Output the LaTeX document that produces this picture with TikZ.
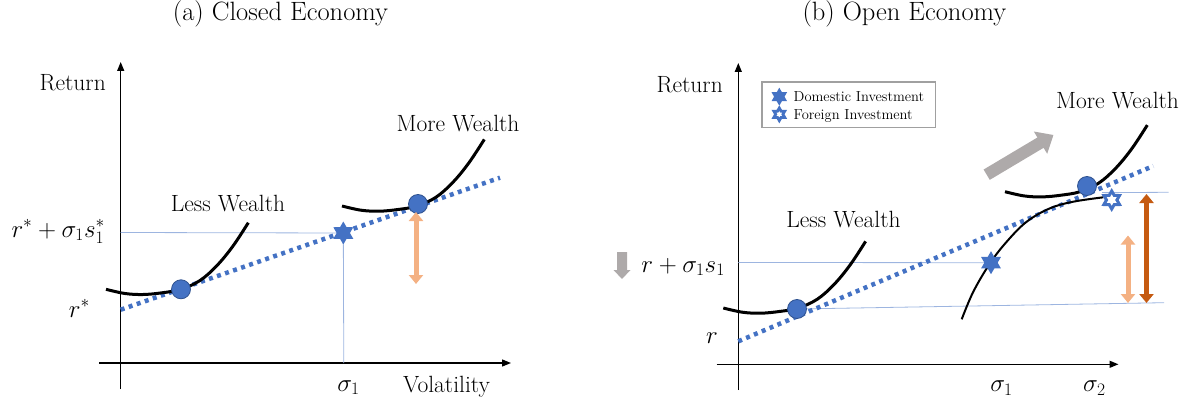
\RequirePackage{fix-cm}
\documentclass[tikz,border=0pt]{standalone}
\usetikzlibrary{arrows.meta,shapes.geometric}
\definecolor{accblue}{HTML}{4472C4}
\definecolor{edgeblue}{HTML}{2F528F}
\definecolor{thinblue}{HTML}{9DB5E0}
\definecolor{lightor}{HTML}{F4B183}
\definecolor{darkor}{HTML}{C55A11}
\definecolor{arrowgray}{HTML}{AEAAAA}
\definecolor{legendgray}{HTML}{A0A0A0}
\tikzset{
  axisline/.style={line width=1.3pt, -{Triangle[length=9pt,width=7pt]}},
  icurve/.style={line width=3pt},
  frontier/.style={line width=2pt},
  dotline/.style={accblue, line width=4.5pt, dash pattern=on 4pt off 4.5pt},
  guide/.style={thinblue, line width=0.8pt},
  wdot/.style={circle, fill=accblue, draw=edgeblue, line width=0.8pt, minimum size=19pt, inner sep=0pt},
  hexstar/.style={star, star points=6, star point ratio=1.73, fill=accblue, minimum size=23pt, inner sep=0pt},
  openstar/.style={star, star points=6, star point ratio=1.73, fill=white, draw=accblue, line width=3pt, minimum size=18pt, inner sep=0pt},
  lbl/.style={font=\fontsize{23.5}{28}\selectfont, inner sep=0pt, anchor=base},
  mlbl/.style={font=\fontsize{25}{30}\selectfont, inner sep=0pt, anchor=base},
  captxt/.style={font=\fontsize{26.5}{31}\selectfont, inner sep=0pt, anchor=base},
  legtxt/.style={font=\fontsize{14.5}{17}\selectfont, inner sep=0pt, anchor=base west},
  dblarrow/.style={line width=5pt, {Triangle[length=9pt,width=14pt]}-{Triangle[length=9pt,width=14pt]}},
  icpic/.pic={\draw[icurve] plot[smooth,tension=0.6] coordinates {(-75,0) (-56,4.2) (-38,5.2) (-19,3.5) (0,0) (19,-8.8) (36,-23.8) (52,-43.3) (67.3,-66.6)};}
}
\begin{document}
\begin{tikzpicture}[x=1pt,y=-1pt]
\useasboundingbox (0,0) rectangle (1192,404);
% captions
\node[captxt] (capa) at (280.5,21) {(a) Closed Economy};
\node[captxt] (capb) at (904.4,21) {(b) Open Economy};

% ================= panel (a) =================
\coordinate (ya0) at (120.7,389);
\coordinate (ya1) at (120.7,62);
\coordinate (xa0) at (99,363);
\coordinate (xa1) at (511,363);
\draw[axisline] (ya0) -- (ya1);
\draw[axisline] (xa0) -- (xa1);
\coordinate (psa) at (343.3,233);
\coordinate (ga0) at (120.7,232.5);
\coordinate (ga1) at (343.8,363);
\draw[guide] (ga0) -- (psa);
\draw[guide] (psa) -- (ga1);
\coordinate (da0) at (120.7,309.7);
\coordinate (da1) at (500,177.7);
\draw[dotline] (da0) -- (da1);
\pic at (181,289.3) {icpic};
\pic at (417,206) {icpic};
\node[wdot] (ca1) at (181,289.3) {};
\node[wdot] (ca2) at (418,204) {};
\node[hexstar] (sa) at (psa) {};
\coordinate (oa0) at (416,212);
\coordinate (oa1) at (416,284);
\draw[dblarrow, lightor] (oa0) -- (oa1);

\node[lbl, anchor=base east] (reta) at (106,91) {Return};
\node[mlbl, anchor=base east] (lra1) at (105,237) {$r^{*}+\sigma_1 s_1^{*}$};
\node[mlbl, anchor=base east] (lra0) at (90,317) {$r^{*}$};
\node[mlbl] (siga) at (348.5,391) {$\sigma_1$};
\node[lbl] (vola) at (446.5,392.5) {Volatility};
\node[lbl] (lwa) at (228,211.7) {Less Wealth};
\node[lbl] (mwa) at (458,131) {More Wealth};

% ================= panel (b) =================
\coordinate (yb0) at (738.3,390);
\coordinate (yb1) at (738.3,63);
\coordinate (xb0) at (716.7,364.3);
\coordinate (xb1) at (1118.5,364.3);
\draw[axisline] (yb0) -- (yb1);
\draw[axisline] (xb0) -- (xb1);
\coordinate (psd) at (991,262.7);
\coordinate (psf) at (1111.7,200);
\coordinate (cb1p) at (797,309);
\coordinate (gb0) at (738.3,262.5);
\coordinate (gb1) at (1164,302.7);
\coordinate (gb2) at (1102,192.6);
\coordinate (gb3) at (1168.5,192.3);
\draw[guide] (gb0) -- (psd);
\draw[guide] (cb1p) -- (gb1);
\draw[guide] (gb2) -- (gb3);
\coordinate (db0) at (738.3,341.3);
\coordinate (db1) at (1153.3,166);
\draw[dotline] (db0) -- (db1);
\draw[frontier] plot[smooth,tension=0.6] coordinates {(961.7,319.3) (973.3,291.7) (990,263.3) (1006.7,241.7) (1026.7,221.7) (1050,208.3) (1073.3,201.7) (1103.3,197.3)};
\pic at (798.3,308) {icpic};
\pic at (1080,191.7) {icpic};
\node[wdot] (cb1) at (cb1p) {};
\node[wdot] (cb2) at (1087,186) {};
\node[hexstar] (sd) at (psd) {};
\node[openstar] (sf) at (psf) {};
\coordinate (ob0) at (1128,235.5);
\coordinate (ob1) at (1128,303);
\draw[dblarrow, lightor] (ob0) -- (ob1);
\coordinate (ob2) at (1146.5,194);
\coordinate (ob3) at (1146.5,303);
\draw[dblarrow, darkor] (ob2) -- (ob3);
% gray arrows
\fill[arrowgray] (983.6,169.55) -- (1037.4,137.5) -- (1033.8,131.5) -- (1053.4,135) -- (1047.2,153.8) -- (1043.6,147.8) -- (989.8,179.85) -- cycle;
\fill[arrowgray] (617,252) -- (627,252) -- (627,270) -- (630.5,270) -- (622,279) -- (613.5,270) -- (617,270) -- cycle;

% legend
\node[draw=legendgray, line width=1.3pt, minimum width=173.5pt, minimum height=45.5pt, inner sep=0pt] (legend) at (848.75,104.75) {};
\node[hexstar, minimum size=18pt] (lsd) at (779.3,96.7) {};
\node[openstar, minimum size=12.5pt, line width=2.8pt] (lsf) at (779.3,114.3) {};
\node[legtxt] (ltd) at (793.5,102) {Domestic Investment};
\node[legtxt] (ltf) at (793.5,119) {Foreign Investment};

\node[lbl, anchor=base east] (retb) at (723,92.5) {Return};
\node[mlbl, anchor=base east] (lrb1) at (725,272) {$r+\sigma_1 s_1$};
\node[mlbl, anchor=base east] (lrb0) at (718,343.5) {$r$};
\node[mlbl] (sigb1) at (1001.5,391.3) {$\sigma_1$};
\node[mlbl] (sigb2) at (1094.3,391.3) {$\sigma_2$};
\node[lbl] (lwb) at (843.5,227) {Less Wealth};
\node[lbl] (mwb) at (1117.5,108.3) {More Wealth};
\end{tikzpicture}
\end{document}
